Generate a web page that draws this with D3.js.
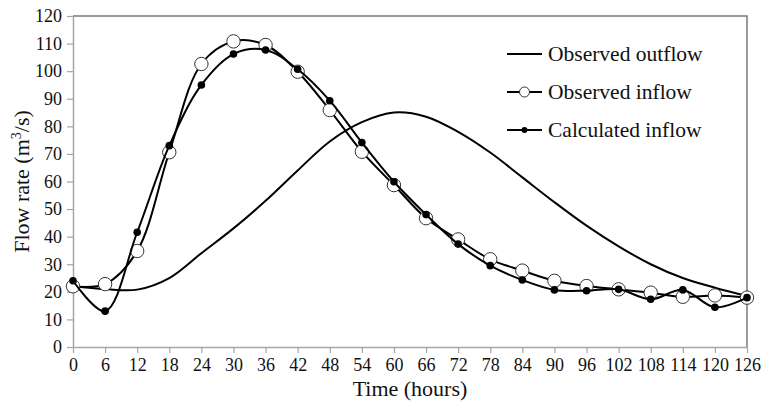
<!DOCTYPE html>
<html>
<head>
<meta charset="utf-8">
<script src="https://cdn.jsdelivr.net/npm/d3@7"></script>
<style>
  body { margin: 0; background: #fff; }
  svg text { font-family: "Liberation Serif", "Times New Roman", serif; fill: #111; }
</style>
</head>
<body>
<div id="chart"></div>
<script>
// data, one value every 6 hours
var hours = [0, 6, 12, 18, 24, 30, 36, 42, 48, 54, 60, 66, 72, 78, 84, 90, 96, 102, 108, 114, 120, 126];
var observedOutflow = [22, 21, 20.8, 25, 34, 43, 53, 64, 74.5, 81.5, 85, 83.5, 78, 70.5, 61.5, 52.5, 44, 36.5, 30, 25, 21.5, 18.5];
var observedInflow = [22, 22.8, 34.8, 70.6, 102.6, 110.8, 109.5, 99.8, 85.9, 70.8, 58.7, 46.7, 39, 31.8, 27.7, 24, 22.1, 20.9, 19.7, 18.2, 18.7, 17.9];
var calculatedInflow = [24, 13, 41.6, 73, 95, 106.2, 107.7, 100.7, 89.3, 74.1, 59.9, 48, 37.3, 29.5, 24.3, 20.7, 20.4, 20.9, 17.3, 20.7, 14.4, 17.9];
var yTicks = [0, 10, 20, 30, 40, 50, 60, 70, 80, 90, 100, 110, 120];
var legendLabels = ["Observed outflow", "Observed inflow", "Calculated inflow"];

// set the dimensions and margins of the graph
var margin = {top: 16, right: 26, bottom: 55, left: 73},
    width = 773 - margin.left - margin.right,
    height = 402 - margin.top - margin.bottom;

var x = d3.scaleLinear().domain([0, 126]).range([0, width]);
var y = d3.scaleLinear().domain([0, 120]).range([height, 0]);

var svg = d3.select("#chart").append("svg")
    .attr("width", 773)
    .attr("height", 402)
    .append("g")
    .attr("transform", "translate(" + margin.left + "," + margin.top + ")");

// box on top and right
svg.append("path")
    .attr("d", "M0,0H" + width + "V" + height)
    .attr("fill", "none")
    .attr("stroke", "#7a7a7a")
    .attr("stroke-width", 1.5);

// x axis
var xAxis = svg.append("g")
    .attr("transform", "translate(0," + height + ")")
    .call(d3.axisBottom(x).tickValues(hours).tickSize(6).tickPadding(5).tickSizeOuter(0));

// y axis
var yAxis = svg.append("g")
    .call(d3.axisLeft(y).tickValues(yTicks).tickSize(6).tickPadding(5).tickSizeOuter(0));

[xAxis, yAxis].forEach(function(a) {
    a.attr("font-family", "Liberation Serif").attr("font-size", 18);
    a.select(".domain").attr("stroke", "#a6a6a6").attr("stroke-width", 1.5);
    a.selectAll(".tick line").attr("stroke", "#a6a6a6").attr("stroke-width", 1.2);
    a.selectAll(".tick text")
        .attr("fill", "#111")
        .style("font-family", "'Liberation Serif', serif")
        .style("font-size", "18px");
});

// axis labels
svg.append("text")
    .attr("x", width / 2)
    .attr("y", height + 49)
    .attr("text-anchor", "middle")
    .style("font-size", "22px")
    .text("Time (hours)");

var yl = svg.append("text")
    .attr("transform", "rotate(-90)")
    .attr("x", -height / 2)
    .attr("y", -44)
    .attr("text-anchor", "middle")
    .style("font-size", "22px");
yl.append("tspan").text("Flow rate (m");
yl.append("tspan").attr("dy", -8).style("font-size", "14px").text("3");
yl.append("tspan").attr("dy", 8).text("/s)");

var line = function(vals) {
    return d3.line()
        .x(function(d, i) { return x(hours[i]); })
        .y(function(d) { return y(d); })
        .curve(d3.curveCatmullRom)(vals);
};

// observed outflow
svg.append("path")
    .attr("d", line(observedOutflow))
    .attr("fill", "none")
    .attr("stroke", "#000")
    .attr("stroke-width", 2);

// observed inflow
svg.append("path")
    .attr("d", line(observedInflow))
    .attr("fill", "none")
    .attr("stroke", "#000")
    .attr("stroke-width", 2);
svg.selectAll(".obs")
    .data(observedInflow)
    .enter().append("circle")
    .attr("class", "obs")
    .attr("cx", function(d, i) { return x(hours[i]); })
    .attr("cy", function(d) { return y(d); })
    .attr("r", 6.7)
    .attr("fill", "#fff")
    .attr("stroke", "#333")
    .attr("stroke-width", 1);

// calculated inflow
svg.append("path")
    .attr("d", line(calculatedInflow))
    .attr("fill", "none")
    .attr("stroke", "#000")
    .attr("stroke-width", 2);
svg.selectAll(".calc")
    .data(calculatedInflow)
    .enter().append("circle")
    .attr("class", "calc")
    .attr("cx", function(d, i) { return x(hours[i]); })
    .attr("cy", function(d) { return y(d); })
    .attr("r", 3.8)
    .attr("fill", "#000");

// legend
var legend = svg.selectAll(".legend")
    .data(legendLabels)
    .enter().append("g")
    .attr("class", "legend")
    .attr("transform", function(d, i) { return "translate(" + (507 - margin.left) + "," + (54 - margin.top + i * 38) + ")"; });

legend.append("line")
    .attr("x1", 0).attr("x2", 35)
    .attr("stroke", "#000")
    .attr("stroke-width", 2);

legend.filter(function(d, i) { return i === 1; })
    .append("circle")
    .attr("cx", 17.5).attr("r", 5)
    .attr("fill", "#fff").attr("stroke", "#333");

legend.filter(function(d, i) { return i === 2; })
    .append("circle")
    .attr("cx", 17.5).attr("r", 3)
    .attr("fill", "#000");

legend.append("text")
    .attr("x", 41)
    .attr("dy", "0.33em")
    .style("font-size", "21.5px")
    .text(function(d) { return d; });
</script>
</body>
</html>
